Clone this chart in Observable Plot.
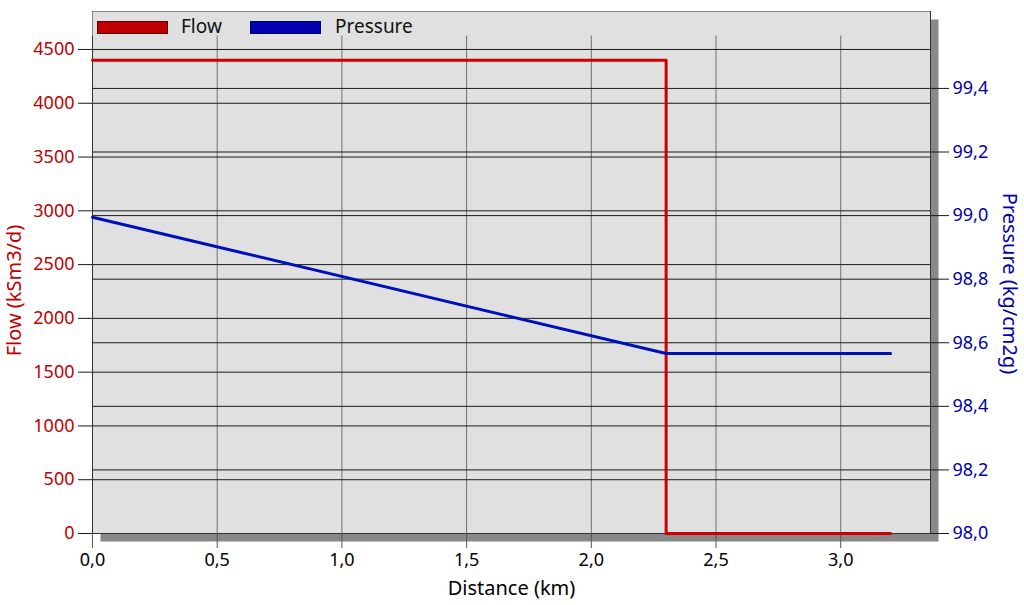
<!DOCTYPE html>
<html><head><meta charset="utf-8">
<script src="https://cdn.jsdelivr.net/npm/d3@7"></script>
<script src="https://cdn.jsdelivr.net/npm/@observablehq/plot@0.6"></script>
<style>
body{margin:0;background:#fff;}
#wrap{position:relative;width:1024px;height:605px;}
#legend{position:absolute;left:0;top:0;}
</style>
</head><body>
<div id="wrap"></div>
<script>
// ---- data ----
const distance = [0, 2.3, 3.2];            // km
const flow = [4400, 0, 0];                  // kSm3/d (step after)
const pressure = [98.995, 98.566, 98.566];  // kg/cm2g
const flowTicks = [0, 500, 1000, 1500, 2000, 2500, 3000, 3500, 4000, 4500];
const pressureTicks = [98.0, 98.2, 98.4, 98.6, 98.8, 99.0, 99.2, 99.4];
const distanceTicks = [0, 0.5, 1.0, 1.5, 2.0, 2.5, 3.0];
const seriesNames = ["Flow", "Pressure"];
const seriesColors = ["#cc0000", "#0010b8"];

// ---- scales ----
const flowMax = 4853;
const pMin = 98.0, pMax = 99.642;
const k = flowMax / (pMax - pMin);
const toY = p => (p - pMin) * k;
const fmt1 = d => d.toFixed(1).replace(".", ",");

const rows = distance.map((d, i) => ({distance: d, flow: flow[i], pressure: pressure[i]}));

const font = "'Noto Sans', 'DejaVu Sans', sans-serif";

const chart = Plot.plot({
  width: 1024, height: 605,
  marginLeft: 92, marginRight: 94, marginTop: 11, marginBottom: 72,
  style: {fontFamily: font, fontSize: "18px", background: "transparent"},
  x: {domain: [0, 3.36]},
  y: {domain: [0, flowMax]},
  marks: [
    Plot.frame({fill: "#888888", dx: 8, dy: 8}),
    Plot.frame({fill: "#e0e0e0"}),
    Plot.gridX(distanceTicks.slice(1), {stroke: "#707070", strokeOpacity: 1}),
    Plot.gridY(flowTicks, {stroke: "#1a1a1a", strokeOpacity: 1}),
    Plot.gridY(pressureTicks.map(toY), {stroke: "#1a1a1a", strokeOpacity: 1}),
    Plot.frame({stroke: "#333333"}),
    Plot.axisX(distanceTicks, {tickSize: 15, tickPadding: 5, stroke: "#555555", fill: "#000000", tickFormat: fmt1, label: null}),
    Plot.axisY(flowTicks, {anchor: "left", tickSize: 14, tickPadding: 4, stroke: "#1a1a1a", fill: "#c00000", tickFormat: d3.format("d"), label: null}),
    Plot.axisY(pressureTicks.map(toY), {anchor: "right", tickSize: 18, tickPadding: 4, stroke: "#1a1a1a", fill: "#0000a8", tickFormat: d => fmt1(d / k + pMin), label: null}),
    Plot.line(rows, {x: "distance", y: "flow", curve: "step-after", stroke: seriesColors[0], strokeWidth: 3}),
    Plot.line(rows, {x: "distance", y: d => toY(d.pressure), stroke: seriesColors[1], strokeWidth: 3}),
    Plot.text(["Flow (kSm3/d)"], {text: d => d, frameAnchor: "left", dx: -78, dy: 18, rotate: -90, textAnchor: "middle", lineAnchor: "middle", fill: "#c00000", fontSize: 20}),
    Plot.text(["Pressure (kg/cm2g)"], {text: d => d, frameAnchor: "right", dx: 79, dy: 11, rotate: 90, textAnchor: "middle", lineAnchor: "middle", fill: "#0000a8", fontSize: 20}),
    Plot.text(["Distance (km)"], {text: d => d, frameAnchor: "bottom", dy: 55, textAnchor: "middle", lineAnchor: "middle", fill: "#000000", fontSize: 20})
  ]
});
const wrap = document.getElementById("wrap");
wrap.appendChild(chart);

// ---- legend overlay (inside plot frame, top band) ----
const ns = "http://www.w3.org/2000/svg";
const lg = document.createElementNS(ns, "svg");
lg.setAttribute("id", "legend");
lg.setAttribute("width", 1024);
lg.setAttribute("height", 40);
const band = document.createElementNS(ns, "rect");
band.setAttribute("x", 92.5); band.setAttribute("y", 11.5);
band.setAttribute("width", 837); band.setAttribute("height", 24);
band.setAttribute("fill", "#e0e0e0");
lg.appendChild(band);
const swX = [97, 250], txX = [181, 335];
const swFill = ["#c00000", "#0000b0"], swStroke = ["#5a0000", "#00005a"];
seriesNames.forEach((name, i) => {
  const r = document.createElementNS(ns, "rect");
  r.setAttribute("x", swX[i] + 0.5); r.setAttribute("y", 21.5);
  r.setAttribute("width", 70); r.setAttribute("height", 12);
  r.setAttribute("fill", swFill[i]); r.setAttribute("stroke", swStroke[i]);
  lg.appendChild(r);
  const t = document.createElementNS(ns, "text");
  t.setAttribute("x", txX[i]); t.setAttribute("y", 33);
  t.setAttribute("font-family", font); t.setAttribute("font-size", 19);
  t.setAttribute("fill", "#111");
  t.textContent = name;
  lg.appendChild(t);
});
wrap.appendChild(lg);
</script>
</body></html>
